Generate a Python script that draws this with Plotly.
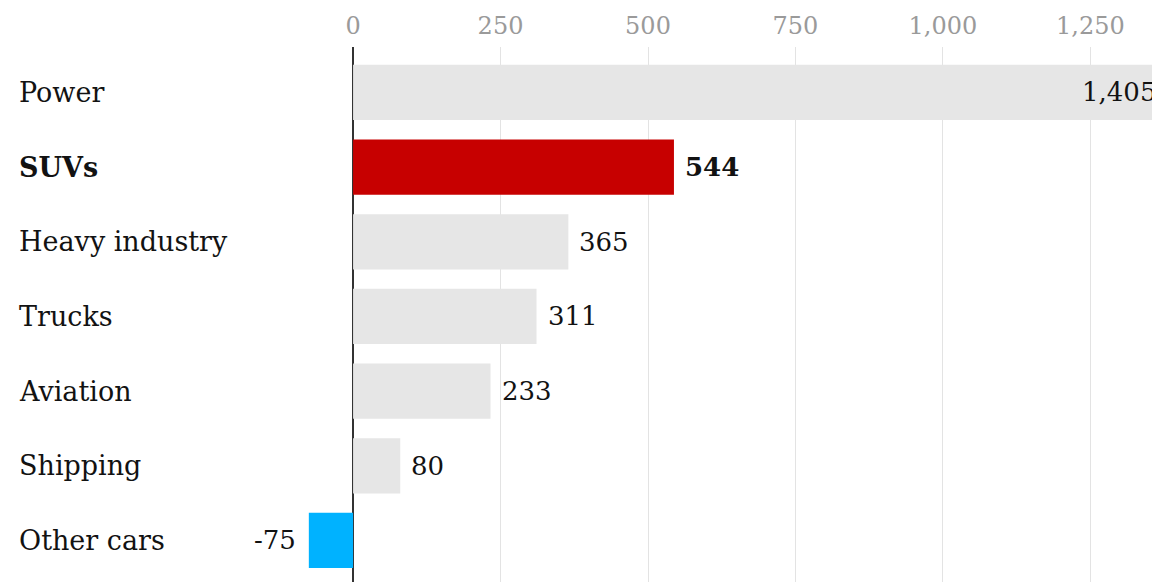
import plotly.graph_objects as go

categories = ["Power", "SUVs", "Heavy industry", "Trucks", "Aviation", "Shipping", "Other cars"]
values = [1405, 544, 365, 311, 233, 80, -75]
colors = ["#e6e6e6", "#c70000", "#e6e6e6", "#e6e6e6", "#e6e6e6", "#e6e6e6", "#00b2ff"]
highlight = "SUVs"
tick_vals = [0, 250, 500, 750, 1000, 1250]
tick_text = ["0", "250", "500", "750", "1,000", "1,250"]

FONT = "DejaVu Serif"
TXT = "#121212"
X_RANGE = [-585, 1368]

fig = go.Figure(go.Bar(
    x=values, y=categories, orientation="h",
    marker=dict(color=colors, line=dict(width=0)),
    cliponaxis=True, hoverinfo="skip",
))

annotations = []
for c, v in zip(categories, values):
    bold = c == highlight
    label = f"<b>{c}</b>" if bold else c
    annotations.append(dict(
        x=0, xref="paper", xanchor="left", xshift=9,
        y=c, yref="y", yanchor="middle",
        text=label, showarrow=False,
        font=dict(family=FONT, size=27, color=TXT),
    ))
    vt = f"{v:,}"
    if bold:
        vt = f"<b>{vt}</b>"
    if v > X_RANGE[1]:
        # bar runs past the visible axis end: label sits inside the visible end
        annotations.append(dict(
            x=X_RANGE[1], xref="x", y=c, yref="y",
            xanchor="right", xshift=-2,
            yanchor="middle", text=vt, showarrow=False,
            font=dict(family=FONT, size=26, color=TXT),
        ))
        continue
    annotations.append(dict(
        x=v, xref="x", y=c, yref="y",
        xanchor="left" if v >= 0 else "right",
        xshift=9 if v >= 0 else -11,
        yanchor="middle", text=vt, showarrow=False,
        font=dict(family=FONT, size=26, color=TXT),
    ))

fig.update_layout(
    width=1152, height=574,
    margin=dict(l=0, r=0, t=39, b=0),
    paper_bgcolor="white", plot_bgcolor="white",
    showlegend=False, bargap=0.26,
    annotations=annotations,
    xaxis=dict(
        range=X_RANGE, side="top",
        tickvals=tick_vals, ticktext=tick_text,
        tickfont=dict(family=FONT, size=24, color="#9a9a9a"),
        ticks="", ticklabelstandoff=7,
        showgrid=True, gridcolor="#e3e3e3", gridwidth=1,
        zeroline=True, zerolinecolor="#333333", zerolinewidth=2,
        fixedrange=True,
    ),
    yaxis=dict(
        categoryorder="array", categoryarray=categories,
        range=[6.556, -0.609],
        showticklabels=False, showgrid=False, zeroline=False,
        fixedrange=True,
    ),
)

fig.write_html("out.html")
